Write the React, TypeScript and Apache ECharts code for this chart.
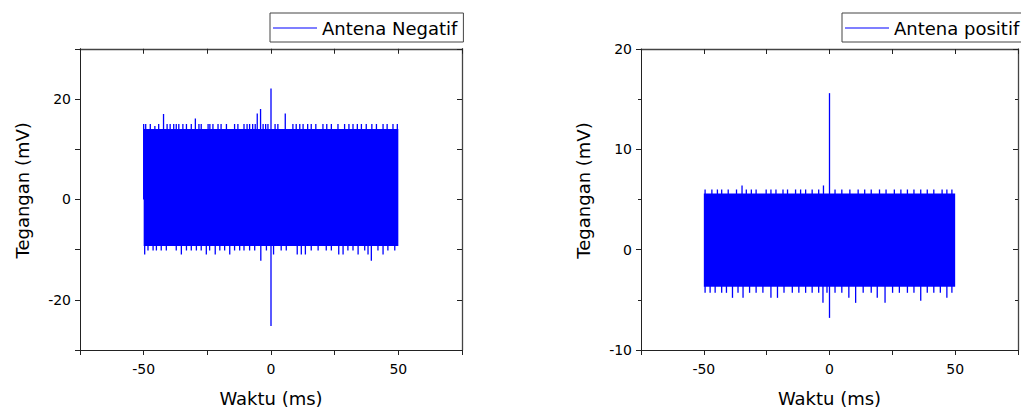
import React, { useEffect, useRef } from "react";
import * as echarts from "echarts";

// ---- data ----
const timeRange = [-50, 50]; // ms, extent of the recorded signal
const xTicks = [-75, 75];

// Left panel: Antena Negatif
const negName = "Antena Negatif";
const negCore = [-9.3, 14.0]; // dense noise band (mV)
const negPeaks: number[][] = [
  [-50.0, 15], [-49.2, 15], [-47.4, 15], [-45.6, 14.6], [-44.1, 15], [-42.2, 17.0], [-40.8, 15],
  [-39.6, 15], [-38.2, 15], [-37.2, 15], [-36.2, 15], [-34.6, 15], [-33.2, 15], [-31.3, 15],
  [-29.7, 16.1], [-28.3, 15], [-27.4, 15], [-24.7, 15], [-24.0, 15], [-22.8, 15], [-20.8, 15],
  [-19.6, 15], [-17.5, 15], [-14.3, 15], [-13.0, 15], [-10.6, 15], [-9.4, 15], [-8.4, 15],
  [-7.2, 15], [-6.2, 15], [-5.4, 17.1], [-4.1, 18.0], [-3.1, 15], [-2.1, 15], [-1.2, 15],
  [0, 22.1], [1.6, 15], [2.7, 15], [5.6, 17.1], [8.6, 15], [9.9, 15], [11.3, 15], [12.6, 15],
  [14.4, 15], [15.8, 15], [17.6, 15], [20.4, 15], [21.9, 15], [23.7, 15], [26.3, 15], [28.9, 15],
  [30.6, 15], [32.2, 15], [33.9, 15], [35.5, 15], [37.4, 15], [39.6, 15], [41.4, 15], [44.0, 15],
  [45.6, 15], [47.9, 15], [49.6, 15],
  [-49.6, -11], [-48.3, -10.2], [-46.3, -10.2], [-45.0, -10.2], [-43.1, -10.2], [-41.1, -10.2],
  [-37.2, -10.2], [-35.2, -11], [-33.2, -10.2], [-31.3, -10.2], [-29.3, -10.2], [-27.4, -10.2],
  [-25.4, -11], [-24.1, -10.2], [-21.9, -11], [-20.1, -10.2], [-18.2, -10.2], [-16.2, -11],
  [-14.3, -10.2], [-12.3, -10.2], [-10.6, -10.2], [-8.4, -10.2], [-6.4, -10.2], [-4.0, -12.2],
  [-1.8, -10.2], [0, -25.2], [1.0, -11], [4.0, -10.2], [6.0, -10.2], [10.3, -11], [11.9, -11],
  [13.5, -11], [15.8, -10.2], [18.5, -10.2], [21.7, -10.2], [23.7, -10.2], [26.6, -11],
  [28.3, -11], [30.2, -10.2], [32.2, -10.2], [34.2, -11], [36.8, -10.2], [38.1, -11],
  [39.4, -12.2], [42.0, -10.2], [44.0, -11], [45.9, -10.2], [48.6, -10.2],
];
const negYRange = [-30, 30];

// Right panel: Antena positif
const posName = "Antena positif";
const posCore = [-3.7, 5.6];
const posPeaks: number[][] = [
  [-49.5, 6.0], [-46.8, 6.0], [-44.6, 6.0], [-42.9, 6.0], [-40.3, 6.0], [-37.0, 6.0],
  [-34.8, 6.4], [-33.1, 6.0], [-31.1, 6.0], [-29.2, 6.0], [-25.2, 6.0], [-23.3, 6.0],
  [-21.3, 6.0], [-18.5, 6.0], [-16.7, 6.0], [-13.5, 6.0], [-11.5, 6.0], [-9.5, 6.0],
  [-6.9, 6.0], [-4.3, 6.0], [-2.4, 6.4], [0, 15.6], [2.2, 6.0], [4.9, 6.0], [8.1, 6.0],
  [11.4, 6.0], [14.0, 6.0], [16.6, 6.0], [19.9, 6.0], [22.5, 6.0], [25.8, 6.0], [28.4, 6.0],
  [31.0, 6.0], [33.6, 6.0], [36.3, 6.0], [38.9, 6.0], [41.5, 6.0], [44.8, 6.0], [46.7, 6.0],
  [48.7, 6.0],
  [-49.5, -4.3], [-47.5, -4.3], [-45.5, -4.3], [-42.9, -4.3], [-41.0, -4.3], [-38.6, -4.8],
  [-36.4, -4.3], [-34.4, -4.8], [-31.8, -4.3], [-29.2, -4.3], [-26.5, -4.3], [-23.3, -4.8],
  [-20.7, -4.8], [-18.1, -4.3], [-14.8, -4.3], [-12.2, -4.3], [-9.5, -4.3], [-6.9, -4.3],
  [-4.3, -4.3], [-2.6, -5.3], [-1.0, -4.3], [0, -6.8], [2.2, -4.3], [4.9, -4.3], [7.7, -4.8],
  [10.4, -5.3], [13.4, -4.3], [16.6, -4.3], [19.0, -4.8], [22.1, -5.3], [25.1, -4.3],
  [27.8, -4.3], [31.0, -4.3], [33.6, -4.3], [36.3, -5.1], [38.9, -4.3], [41.5, -4.3],
  [44.1, -4.3], [46.7, -4.8], [48.7, -4.3],
];
const posYRange = [-10, 20];

const xTitle = "Waktu (ms)";
const yTitle = "Tegangan (mV)";

const FONT = "DejaVu Sans";
const BLUE = "#0000ff";

function bandSeries(name: string, core: number[], xi: number, yi: number) {
  return {
    type: "custom",
    name,
    xAxisIndex: xi,
    yAxisIndex: yi,
    clip: true,
    encode: { x: [0, 1], y: [2, 3] },
    data: [[timeRange[0], timeRange[1], core[0], core[1]]],
    itemStyle: { color: BLUE },
    renderItem: (params: any, api: any) => {
      const p0 = api.coord([api.value(0), api.value(3)]);
      const p1 = api.coord([api.value(1), api.value(2)]);
      return {
        type: "rect",
        shape: { x: p0[0], y: p0[1], width: p1[0] - p0[0], height: p1[1] - p0[1] },
        style: { fill: BLUE },
      };
    },
  };
}

function peakSeries(name: string, peaks: number[][], xi: number, yi: number) {
  return {
    type: "custom",
    name,
    xAxisIndex: xi,
    yAxisIndex: yi,
    clip: true,
    encode: { x: 0, y: 1 },
    data: peaks,
    itemStyle: { color: BLUE },
    renderItem: (params: any, api: any) => {
      const x = api.value(0);
      const v = api.value(1);
      const a = api.coord([x, 0]);
      const b = api.coord([x, v]);
      return {
        type: "line",
        shape: { x1: a[0], y1: a[1], x2: b[0], y2: b[1] },
        style: { stroke: BLUE, lineWidth: 1.3 },
      };
    },
  };
}

const labelStyle = { fontFamily: FONT, fontSize: 14, color: "#000" };
const lineStyle = { color: "#222", width: 1 };

function bottomX(gi: number) {
  return {
    type: "value",
    gridIndex: gi,
    position: "bottom",
    min: xTicks[0],
    max: xTicks[1],
    interval: 25,
    name: xTitle,
    nameLocation: "middle",
    nameGap: 39,
    nameTextStyle: { fontFamily: FONT, fontSize: 18, color: "#000" },
    axisLine: { show: true, onZero: false, lineStyle },
    axisTick: { show: true, inside: false, length: 5, lineStyle },
    axisLabel: {
      ...labelStyle,
      margin: 12,
      formatter: (v: number) => (v % 50 === 0 ? String(v) : ""),
    },
    splitLine: { show: false },
  };
}
function topX(gi: number) {
  return {
    type: "value",
    gridIndex: gi,
    position: "top",
    min: xTicks[0],
    max: xTicks[1],
    interval: 25,
    axisLine: { show: true, onZero: false, lineStyle: { color: "#444", width: 1.3 } },
    axisTick: { show: true, inside: true, length: 5, lineStyle },
    axisLabel: { show: false },
    splitLine: { show: false },
  };
}
function leftY(gi: number, range: number[], labelEvery: number, minor: boolean) {
  return {
    type: "value",
    gridIndex: gi,
    position: "left",
    min: range[0],
    max: range[1],
    interval: 10,
    name: yTitle,
    nameLocation: "middle",
    nameGap: 49,
    nameTextStyle: { fontFamily: FONT, fontSize: 18, color: "#000", padding: [0, 0, 0, 18] },
    axisLine: { show: true, onZero: false, lineStyle },
    axisTick: { show: true, inside: false, length: 5, lineStyle },
    minorTick: { show: minor, splitNumber: 2, length: 3, lineStyle },
    axisLabel: {
      ...labelStyle,
      margin: 9,
      formatter: (v: number) => (v % labelEvery === 0 ? String(v) : ""),
    },
    splitLine: { show: false },
  };
}
function rightY(gi: number, range: number[], minor: boolean) {
  return {
    type: "value",
    gridIndex: gi,
    position: "right",
    min: range[0],
    max: range[1],
    interval: 10,
    axisLine: { show: true, onZero: false, lineStyle: { color: "#444", width: 1.3 } },
    axisTick: { show: true, inside: true, length: 5, lineStyle },
    minorTick: { show: minor, splitNumber: 2, length: 3, lineStyle },
    axisLabel: { show: false },
    splitLine: { show: false },
  };
}

function legendFor(name: string, left: number, top: number) {
  return {
    data: [{ name, icon: "rect", itemStyle: { color: "#7f7fff" } }],
    left,
    top,
    orient: "horizontal",
    itemWidth: 44,
    itemHeight: 2,
    padding: [6, 6, 5, 3],
    borderColor: "#444",
    borderWidth: 1,
    textStyle: { fontFamily: FONT, fontSize: 18, color: "#000" },
    selectedMode: false,
  };
}

export default function App() {
  const ref = useRef<HTMLDivElement>(null);
  useEffect(() => {
    if (!ref.current) return;
    const chart = echarts.init(ref.current, null, { renderer: "svg" });
    chart.setOption({
      animation: false,
      backgroundColor: "#fff",
      textStyle: { fontFamily: FONT },
      legend: [legendFor(negName, 270, 13), legendFor(posName, 842, 13)],
      grid: [
        { left: 80, top: 48.75, width: 382, height: 307.5 },
        { left: 641, top: 49, width: 382, height: 308 },
      ],
      xAxis: [bottomX(0), topX(0), bottomX(1), topX(1)],
      yAxis: [
        leftY(0, negYRange, 20, false),
        rightY(0, negYRange, false),
        leftY(1, posYRange, 10, true),
        rightY(1, posYRange, true),
      ],
      series: [
        bandSeries(negName, negCore, 0, 0),
        peakSeries(negName, negPeaks, 0, 0),
        bandSeries(posName, posCore, 2, 2),
        peakSeries(posName, posPeaks, 2, 2),
      ],
    });
    return () => chart.dispose();
  }, []);
  return (
    <div
      ref={ref}
      style={{ position: "absolute", left: 0, top: 0, width: 1021, height: 412, background: "#fff" }}
    />
  );
}
